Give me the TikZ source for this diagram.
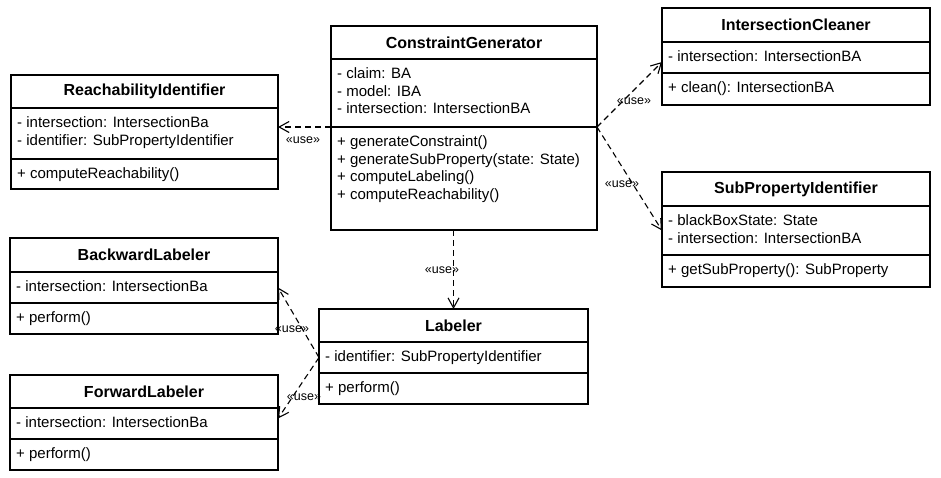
\documentclass[tikz,border=0pt]{standalone}
\usepackage{fontspec}
\setmainfont{Liberation Sans}
\usetikzlibrary{arrows.meta,calc}
\tikzset{
 sec/.style={draw, line width=1.2pt, inner sep=0pt, anchor=north west, outer sep=0pt},
 ttl/.style={font=\fontsize{16}{18}\selectfont\bfseries},
 txt/.style={font=\fontsize{15}{18}\selectfont, anchor=base west, inner sep=0pt},
 usel/.style={font=\fontsize{12.5}{14}\selectfont, inner sep=0pt},
 dep/.style={line width=1.1pt, dash pattern=on 6pt off 4pt, -{Straight Barb[length=10pt,width=11pt,line width=1.1pt]}}
}
\newcommand\umlclass[8]{%
 \node[sec, minimum width={(#4-#2)*1pt}, minimum height={(#5-#3)*1pt}, ttl] (#1t) at (#2,#3) {#8};
 \node[sec, minimum width={(#4-#2)*1pt}, minimum height={(#6-#5)*1pt}] (#1a) at (#2,#5) {};
 \node[sec, minimum width={(#4-#2)*1pt}, minimum height={(#7-#6)*1pt}] (#1m) at (#2,#6) {};
}
\newcommand\umllines[3]{%
 \foreach \s [count=\i] in {#3} {
   \node[txt] (#1#2\i) at ($(#1#2.north west)+(6,{19.5+(\i-1)*17.5})$) {\s};
 }
}
\begin{document}
\begin{tikzpicture}[x=1pt,y=-1pt]
\useasboundingbox (0,0) rectangle (941,477);
\umlclass{cg}{331}{26}{597}{59}{127}{230}{ConstraintGenerator}
\umllines{cg}{a}{- claim: BA, - model: IBA, - intersection: IntersectionBA}
\umllines{cg}{m}{+ generateConstraint(), + generateSubProperty(state: State), + computeLabeling(), + computeReachability()}
\umlclass{ri}{11}{75}{278}{108}{159}{189}{ReachabilityIdentifier}
\umllines{ri}{a}{- intersection: IntersectionBa, - identifier: SubPropertyIdentifier}
\umllines{ri}{m}{+ computeReachability()}
\umlclass{ic}{662}{8}{930}{42}{73}{105}{IntersectionCleaner}
\umllines{ic}{a}{- intersection: IntersectionBA}
\umllines{ic}{m}{+ clean(): IntersectionBA}
\umlclass{sp}{662}{172}{930}{206}{255}{287}{SubPropertyIdentifier}
\umllines{sp}{a}{- blackBoxState: State, - intersection: IntersectionBA}
\umllines{sp}{m}{+ getSubProperty(): SubProperty}
\umlclass{bl}{10}{238}{278}{272}{303}{334}{BackwardLabeler}
\umllines{bl}{a}{- intersection: IntersectionBa}
\umllines{bl}{m}{+ perform()}
\umlclass{fl}{10}{375}{278}{408}{439}{470}{ForwardLabeler}
\umllines{fl}{a}{- intersection: IntersectionBa}
\umllines{fl}{m}{+ perform()}
\umlclass{lb}{319}{309}{588}{342}{373}{404}{Labeler}
\umllines{lb}{a}{- identifier: SubPropertyIdentifier}
\umllines{lb}{m}{+ perform()}
\draw[dep] (cgm.north west) -- (cgm.north west -| ria.east);
\draw[dep] (cgm.north east) -- ($(ica.west)+(0,4.5)$);
\draw[dep] (cgm.north east) -- (spa.west);
\draw[dep] (cgm.south -| lbt.north) -- (lbt.north);
\draw[dep] (lba.west) -- (bla.east);
\draw[dep] (lba.west) -- ($(fla.east)+(0,-5)$);
\node[usel] (u1) at (303,140) {«use»};
\node[usel] (u2) at (634,101) {«use»};
\node[usel] (u3) at (622,184) {«use»};
\node[usel] (u4) at (442,270) {«use»};
\node[usel] (u5) at (292,329) {«use»};
\node[usel] (u6) at (304,397) {«use»};
\end{tikzpicture}
\end{document}
